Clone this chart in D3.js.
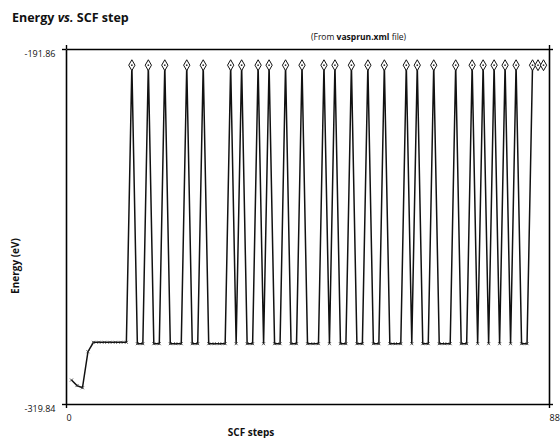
<!DOCTYPE html>
<html>
<head>
<meta charset="utf-8">
<script src="https://cdn.jsdelivr.net/npm/d3@7"></script>
<style>
  body { margin: 0; background: #fff; }
  text { font-family: "Open Sans", "Noto Sans", sans-serif; fill: #111; }
</style>
</head>
<body>
<div class="chart"></div>
<script>

// scf step numbers and the total energy at each (eV)
const steps = d3.range(1, 88)
const energy = [
  -311.2, -313.2, -314.0, -301.0, -297.6, -297.6, -297.6, -297.6, -297.6, -297.6,
  -297.6, -197.7, -298.1, -298.1, -197.7, -298.1, -298.1, -197.7, -298.1, -298.1,
  -298.1, -197.7, -298.1, -298.1, -197.7, -298.1, -298.1, -298.1, -298.1, -197.7,
  -298.1, -197.7, -298.1, -298.1, -197.7, -298.1, -197.7, -298.1, -298.1, -197.7,
  -298.1, -298.1, -197.7, -298.1, -298.1, -298.1, -197.7, -298.1, -197.7, -298.1,
  -298.1, -197.7, -298.1, -298.1, -197.7, -298.1, -298.1, -197.7, -298.1, -298.1,
  -298.1, -197.7, -298.1, -197.7, -298.1, -298.1, -197.7, -298.1, -298.1, -298.1,
  -197.7, -298.1, -298.1, -197.7, -298.1, -197.7, -298.1, -197.7, -298.1, -197.7,
  -298.1, -197.7, -298.1, -298.1, -197.7, -197.7, -197.7
]

// axis ends as printed on the chart
const xTicks = [0, 88]
const yTicks = [-319.84, -191.86]

const dataset = steps.map((s, i) => ({step: s, e: energy[i]}))


let dimensions = {
  width: 560,
  height: 438,
  margin: {top: 49, right: 11, bottom: 34, left: 66},
}
dimensions.boundedWidth = dimensions.width - dimensions.margin.left - dimensions.margin.right
dimensions.boundedHeight = dimensions.height - dimensions.margin.top - dimensions.margin.bottom

const wrapper = d3.select(".chart")
  .append("svg")
    .attr("width", dimensions.width)
    .attr("height", dimensions.height)

const bounds = wrapper.append("g")
  .attr("transform", `translate(${dimensions.margin.left},${dimensions.margin.top})`)

const xScale = d3.scaleLinear()
  .domain(d3.extent(xTicks))
  .range([0, dimensions.boundedWidth])

const yScale = d3.scaleLinear()
  .domain(d3.extent(yTicks))
  .range([dimensions.boundedHeight, 0])


// frame: four axes, outward ticks only at the ends
const frameAxes = [
  {axis: d3.axisBottom(xScale).tickValues(xTicks), t: `translate(0,${dimensions.boundedHeight})`, cls: "xAxis"},
  {axis: d3.axisTop(xScale).tickValues(xTicks), t: "translate(0,0)", cls: "topAxis"},
  {axis: d3.axisLeft(yScale).tickValues(yTicks), t: "translate(0,0)", cls: "yAxis"},
  {axis: d3.axisRight(yScale).tickValues(yTicks), t: `translate(${dimensions.boundedWidth},0)`, cls: "rightAxis"},
]

frameAxes.forEach(a => {
  const g = bounds.append("g")
    .attr("class", a.cls)
    .attr("transform", a.t)
    .call(a.axis.tickSizeOuter(0).tickSizeInner(4).tickFormat(d => d))
  g.select(".domain").attr("stroke", "#000").attr("stroke-width", 1.6)
  g.selectAll(".tick line").attr("stroke", "#000").attr("stroke-width", 1.4)
  g.selectAll(".tick text").attr("font-size", 9).attr("font-family", "Open Sans, sans-serif").attr("fill", "#111")
})

bounds.select(".topAxis").selectAll(".tick text").remove()
bounds.select(".rightAxis").selectAll(".tick text").remove()

bounds.select(".yAxis").selectAll(".tick text")
  .attr("x", -26)
  .attr("dy", "0.85em")
  .attr("text-anchor", "middle")

bounds.select(".xAxis").selectAll(".tick text")
  .attr("text-anchor", "start")
  .attr("y", 11)


// energy line
const line = d3.line()
  .x(d => xScale(d.step))
  .y(d => yScale(d.e))

bounds.append("path")
  .datum(dataset)
  .attr("fill", "none")
  .attr("stroke", "#111")
  .attr("stroke-width", 1.5)
  .attr("d", line)

const mid = d3.mean(yTicks)

// diamonds on the high points, small crosses on the low ones
bounds.selectAll(".hi")
  .data(dataset.filter(d => d.e > mid))
  .enter()
  .append("path")
    .attr("class", "hi")
    .attr("transform", d => `translate(${xScale(d.step)},${yScale(d.e)})`)
    .attr("d", d3.symbol(d3.symbolDiamond, 34))
    .attr("fill", "#fff")
    .attr("stroke", "#111")
    .attr("stroke-width", 1)

bounds.selectAll(".hidot")
  .data(dataset.filter(d => d.e > mid))
  .enter()
  .append("circle")
    .attr("class", "hidot")
    .attr("cx", d => xScale(d.step))
    .attr("cy", d => yScale(d.e))
    .attr("r", 0.9)
    .attr("fill", "#333")

bounds.selectAll(".lo")
  .data(dataset.filter(d => d.e <= mid))
  .enter()
  .append("path")
    .attr("class", "lo")
    .attr("transform", d => `translate(${xScale(d.step)},${yScale(d.e)})`)
    .attr("d", "M-1.5,-1.5L1.5,1.5M-1.5,1.5L1.5,-1.5")
    .attr("stroke", "#333")
    .attr("stroke-width", 0.8)


// titles
const title = wrapper.append("text")
  .attr("x", 12)
  .attr("y", 22)
  .attr("font-size", 12.5)
  .attr("font-weight", "bold")
title.append("tspan").text("Energy ")
title.append("tspan").attr("font-style", "italic").text("vs.")
title.append("tspan").text(" SCF step")

const sub = wrapper.append("text")
  .attr("x", 311)
  .attr("y", 40)
  .attr("font-size", 8.5)
sub.append("tspan").text("(From ")
sub.append("tspan").attr("font-weight", "bold").text("vasprun.xml")
sub.append("tspan").text(" file)")

wrapper.append("text")
  .attr("transform", "translate(19,266) rotate(-90)")
  .attr("text-anchor", "middle")
  .attr("font-size", 10)
  .attr("font-weight", "bold")
  .text("Energy (eV)")

wrapper.append("text")
  .attr("x", 251)
  .attr("y", 436)
  .attr("text-anchor", "middle")
  .attr("font-size", 10)
  .attr("font-weight", "bold")
  .text("SCF steps")

</script>
</body>
</html>
